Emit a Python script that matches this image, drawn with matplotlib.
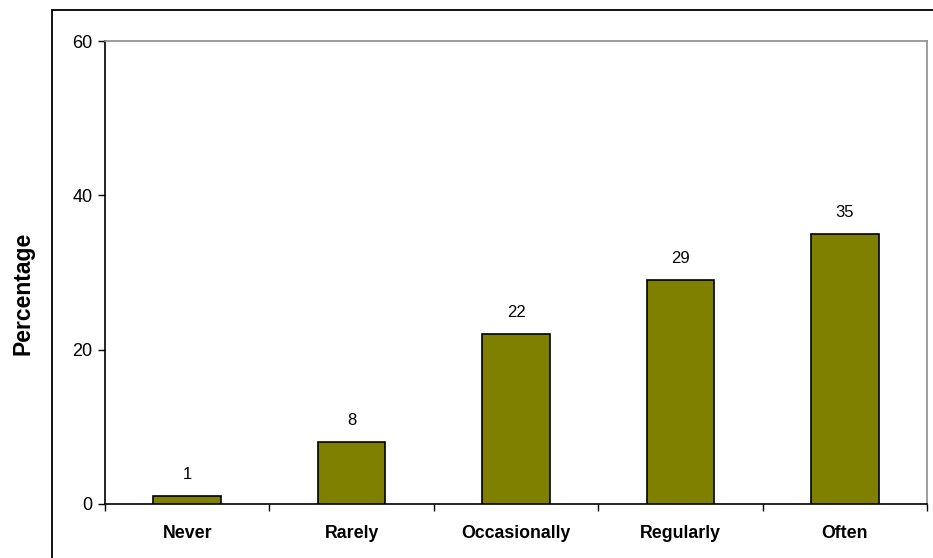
import matplotlib.pyplot as plt
from matplotlib.patches import Rectangle
import numpy as np

#---Data
categories = ['Never', 'Rarely', 'Occasionally', 'Regularly', 'Often']
percentages = [1, 8, 22, 29, 35]
y_ticks = [0, 20, 40, 60]

plt.rcParams['font.family'] = ['Liberation Sans', 'DejaVu Sans']

W, H = 933, 558
fig = plt.figure(figsize=(W/100, H/100), dpi=100)

#---Plot area in pixels: left 105, right 927, top 41, bottom 504
ax = fig.add_axes([105/W, 1-504/H, (927-105)/W, (504-41)/H])

x = np.arange(len(categories))
ax.bar(x, percentages, width=0.41, color='#808000', edgecolor='black', linewidth=1.2, zorder=3)

for xi, v in zip(x, percentages):
    ax.annotate(str(v), (xi, v), xytext=(0, 10), textcoords='offset points',
                ha='center', va='bottom', fontsize=12)

ax.set_xlim(-0.5, len(categories)-0.5)
ax.set_ylim(0, 60)
ax.set_yticks(y_ticks)
ax.set_yticklabels([str(t) for t in y_ticks], fontsize=13)
ax.tick_params(axis='y', length=5, width=1, pad=4)

#---category ticks sit on the boundaries, labels in the middle
ax.set_xticks(np.arange(len(categories)+1)-0.5)
ax.set_xticklabels([])
ax.set_xticks(x, minor=True)
ax.set_xticklabels(categories, minor=True, fontsize=12.8, fontweight='bold')
ax.tick_params(axis='x', which='major', length=5, width=1, colors='black')
ax.tick_params(axis='x', which='minor', length=0, pad=15)

ax.spines['left'].set_color('black')
ax.spines['bottom'].set_color('black')
ax.spines['top'].set_color('#8c8c8c')
ax.spines['right'].set_color('#8c8c8c')
for s in ax.spines.values():
    s.set_linewidth(1.2)

#---y label placed by pixel centre (x 23, y 293)
fig.text(23/W, 1-293/H, 'Percentage', rotation=90, ha='center', va='center',
         fontsize=16.5, fontweight='bold')

#---outer chart frame, running off the right and bottom edges
fig.patches.append(Rectangle((52/W, -0.05), 1.1, 1-10/H+0.05, transform=fig.transFigure,
                             fill=False, edgecolor='black', linewidth=1.3, clip_on=False))

fig.savefig('out.png', dpi=100)
